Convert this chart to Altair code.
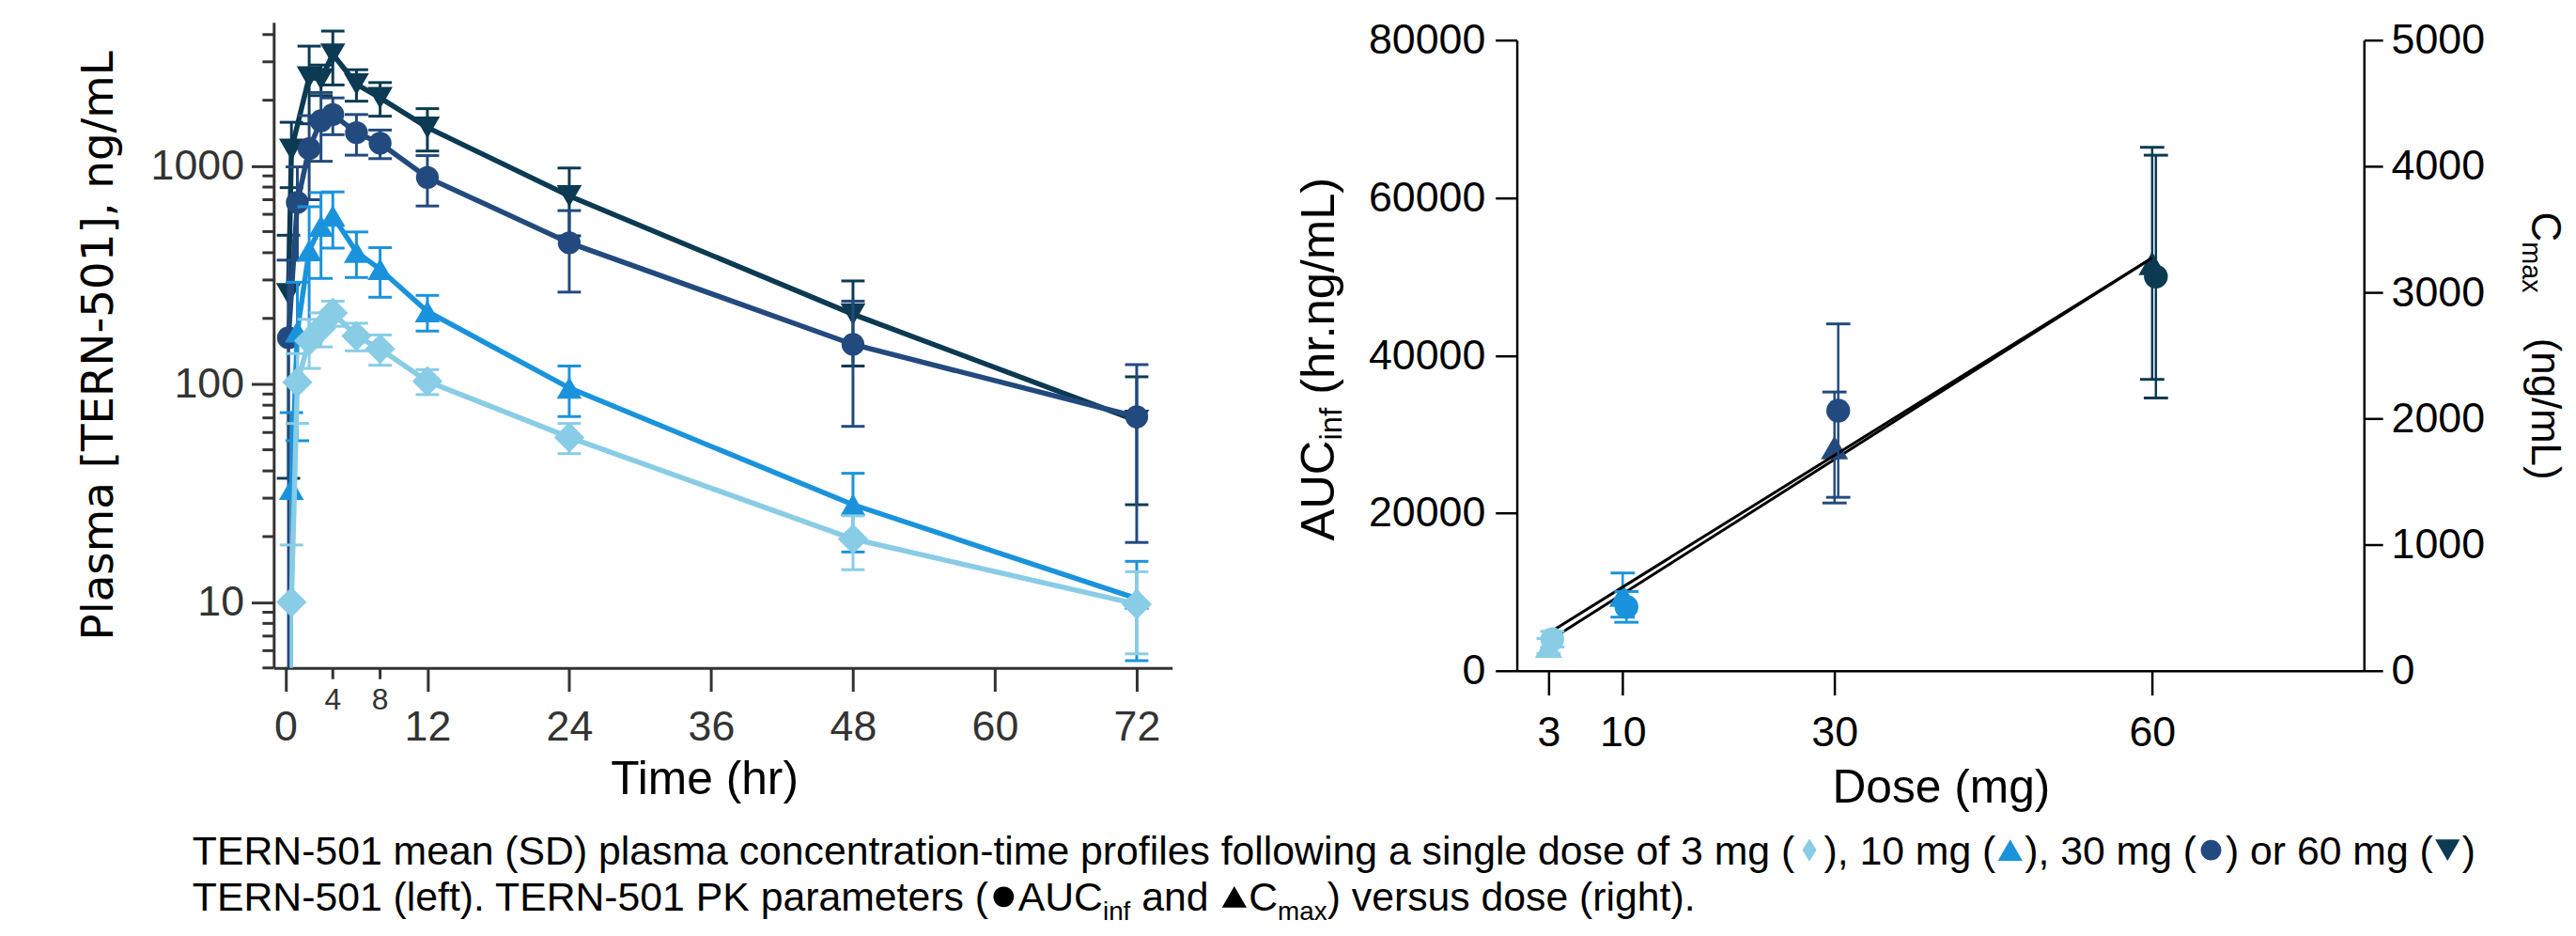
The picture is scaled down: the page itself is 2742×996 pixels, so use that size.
import altair as alt
import pandas as pd

# ---------------- data: left panel, mean (SD) plasma concentration ----------------
t_3mg = [0.5, 1, 2, 3, 4, 6, 8, 12, 24, 48, 72]
c_3mg = [10, 102, 158, 180, 212, 166, 145, 103, 57, 19.5, 9.8]
sd_3mg = [8.3, 36, 40, 32, 28, 24, 23, 13.5, 9, 5.4, 4]

t_10mg = [0.5, 1, 2, 3, 4, 6, 8, 12, 24, 48, 72]
c_10mg = [33, 174, 410, 530, 590, 403, 336, 215, 96, 28, 10.4]
sd_10mg = [41, 119, 240, 225, 170, 95, 86, 40, 25, 11, 5]

t_30mg = [0.25, 1, 2, 3, 4, 6, 8, 12, 24, 48, 72]
c_30mg = [163, 680, 1200, 1610, 1720, 1420, 1270, 885, 444, 152, 70.8]
sd_30mg = [207, 310, 500, 560, 330, 300, 190, 230, 180, 88, 52]

t_60mg = [0.25, 0.5, 2, 3, 4, 6, 8, 12, 24, 48, 72]
c_60mg = [259, 1190, 2550, 2500, 3250, 2370, 2050, 1500, 728, 209, 68]
sd_60mg = [222, 395, 990, 400, 900, 390, 360, 330, 250, 88, 40]

# ---------------- data: right panel, PK parameters vs dose ----------------
dose_mg = [3, 10, 30, 60]
auc_mean = [4000, 8100, 33000, 50000]
auc_sd = [1000, 1950, 11000, 15400]
cmax_mean = [195, 600, 1770, 3230]
cmax_sd = [60, 175, 440, 920]

# ---------------- tick labels ----------------
time_ticks = [0, 12, 24, 36, 48, 60, 72]
time_minor = [4, 8]
conc_ticks = [10, 100, 1000]
dose_ticks = [3, 10, 30, 60]
auc_ticks = [0, 20000, 40000, 60000, 80000]
cmax_ticks = [0, 1000, 2000, 3000, 4000, 5000]

# ---------------- style ----------------
C3, C10, C30, C60 = "#89CCE6", "#1A93DC", "#224A7E", "#0B3A52"
GRAY = "#333333"
FONT = "Liberation Sans, Arial, Helvetica, sans-serif"
TFONT = "DejaVu Sans, Verdana, sans-serif"

LW, LH = 962, 691      # left plot area
RW, RH = 907, 694      # right plot area
LX0, LY0 = 285, 22     # page position of left plot origin
RX0, RY0 = 1616, 22    # page position of right plot origin

AW = {' ': 278, '(': 333, ')': 333, ',': 278, '-': 333, '.': 278, '/': 278, '[': 278, ']': 278}
for d in "0123456789":
    AW[d] = 556
AW.update({'A': 667, 'C': 722, 'D': 722, 'E': 667, 'K': 667, 'L': 556, 'N': 722, 'P': 667,
           'R': 722, 'S': 667, 'T': 611, 'U': 722, 'a': 556, 'c': 500, 'd': 556, 'e': 556,
           'f': 278, 'g': 556, 'h': 556, 'i': 222, 'l': 222, 'm': 833, 'n': 556, 'o': 556,
           'p': 556, 'r': 333, 's': 500, 't': 278, 'u': 556, 'v': 500, 'w': 722, 'x': 500})


def tw(s, fs):
    return sum(AW.get(ch, 556) for ch in s) * fs / 1000.0


# ================= LEFT PANEL =================
x_left = alt.Scale(domain=[-1, 75], nice=False, zero=False)
y_left = alt.Scale(type="log", domain=[5, 4550], nice=False)

ax_time = alt.Axis(values=time_ticks, format="d", tickSize=25, tickWidth=3, tickColor=GRAY,
                   domainColor=GRAY, domainWidth=3, labelFont=FONT, labelFontSize=45,
                   labelColor=GRAY, labelPadding=16, labelFlush=False, labelOverlap=False,
                   grid=False, title="Time (hr)", titleFont=FONT, titleFontSize=50,
                   titleFontWeight="normal", titleColor="black", titleX=461, titleY=135,
                   titleBaseline="alphabetic")
ax_conc = alt.Axis(values=conc_ticks, format="d", tickSize=24, tickWidth=3, tickColor=GRAY,
                   domainColor=GRAY, domainWidth=3, labelFont=FONT, labelFontSize=45,
                   labelColor=GRAY, labelPadding=8, labelFlush=False, labelOverlap=False,
                   grid=False, title="Plasma [TERN-501], ng/mL", titleFont=TFONT,
                   titleFontSize=47, titleFontWeight="normal", titleColor="black",
                   titleX=-173, titleY=345.5, titleAngle=270, titleBaseline="alphabetic",
                   titleAlign="center")

XT = alt.X("t:Q", scale=x_left, axis=ax_time)


def YC(field):
    return alt.Y(field, scale=y_left, axis=ax_conc)


def series(times, conc, sd, color, shape, size):
    hi = [c + s for c, s in zip(conc, sd)]
    lo_raw = [c - s for c, s in zip(conc, sd)]
    lo = [v if v > 5 else 5 for v in lo_raw]
    df = pd.DataFrame({"t": times, "c": conc, "hi": hi, "lo": lo,
                       "cap": [v > 5 for v in lo_raw]})
    base = alt.Chart(df)
    line = base.mark_line(color=color, strokeWidth=5.5).encode(x=XT, y=YC("c:Q"))
    bars = base.mark_rule(color=color, strokeWidth=3).encode(x=XT, y=YC("lo:Q"), y2="hi:Q")
    cap_hi = base.mark_tick(color=color, orient="horizontal", size=25, thickness=3,
                            opacity=1).encode(x=XT, y=YC("hi:Q"))
    cap_lo = base.transform_filter("datum.cap").mark_tick(
        color=color, orient="horizontal", size=25, thickness=3, opacity=1).encode(x=XT, y=YC("lo:Q"))
    pts = base.mark_point(filled=True, opacity=1, shape=shape, size=size, color=color,
                          strokeWidth=0).encode(x=XT, y=YC("c:Q"))
    return [line, bars, cap_hi, cap_lo, pts]


NARROW_DIAMOND = "M0,-1L0.62,0L0,1L-0.62,0Z"

left_layers = []
left_layers += series(t_60mg, c_60mg, sd_60mg, C60, "triangle-down", 720)
left_layers += series(t_30mg, c_30mg, sd_30mg, C30, "circle", 600)
left_layers += series(t_10mg, c_10mg, sd_10mg, C10, "triangle-up", 720)
left_layers += series(t_3mg, c_3mg, sd_3mg, C3, "diamond", 1050)

# minor ticks on the log axis and the 4 / 8 hr ticks
minor_vals = [m * 10 ** e for e in range(0, 4) for m in range(2, 10)
              if 5 <= m * 10 ** e <= 4550 and m * 10 ** e not in conc_ticks]
minor_y = alt.Chart(pd.DataFrame({"v": minor_vals})).mark_rule(
    color=GRAY, strokeWidth=3).encode(y=YC("v:Q"), x=alt.value(-12), x2=alt.value(0))
minor_x_df = pd.DataFrame({"t": time_minor, "lab": [str(v) for v in time_minor]})
minor_x = alt.Chart(minor_x_df).mark_rule(color=GRAY, strokeWidth=3).encode(
    x=XT, y=alt.value(LH), y2=alt.value(LH + 12))
minor_x_lab = alt.Chart(minor_x_df).mark_text(
    font=FONT, fontSize=32, color=GRAY, baseline="top", align="center").encode(
    x=XT, y=alt.value(LH + 20), text="lab:N")
left_layers += [minor_y, minor_x, minor_x_lab]

# ---------------- caption (text + symbol keys) ----------------
DUMMY = pd.DataFrame({"k": [0]})
CF, SF = 43, 28
SLOT = 31


def text_piece(s, xpage, ypage, fs):
    return alt.Chart(DUMMY).mark_text(
        text=s, font=FONT, fontSize=fs, color="black", align="left",
        baseline="alphabetic").encode(x=alt.value(xpage - LX0), y=alt.value(ypage - LY0))


def sym_piece(shape, color, xpage, ypage, size):
    return alt.Chart(DUMMY).mark_point(
        shape=shape, filled=True, opacity=1, color=color, size=size,
        strokeWidth=0).encode(x=alt.value(xpage - LX0), y=alt.value(ypage - LY0))


SYM = {"diamond": (NARROW_DIAMOND, 600), "up": ("triangle-up", 700),
       "circle": ("circle", 480), "down": ("triangle-down", 700)}


def caption_line(pieces, x0, base_y):
    out = []
    x = x0
    for kind, a, b in pieces:
        if kind in ("t", "sub"):
            fs = CF if kind == "t" else SF
            dy = 0 if kind == "t" else 10
            stripped = a.lstrip(" ")
            x += tw(a[:len(a) - len(stripped)], fs)   # leading spaces are collapsed in SVG
            out.append(text_piece(stripped, x, base_y + dy, fs))
            x += tw(stripped, fs)
        else:
            shp, sz = SYM[a]
            out.append(sym_piece(shp, b, x + SLOT / 2, base_y - 15, sz))
            x += SLOT
    return out


line1 = [("t", "TERN-501 mean (SD) plasma concentration-time profiles following a single dose of 3 mg (", None),
         ("s", "diamond", C3), ("t", "), 10 mg (", None), ("s", "up", C10),
         ("t", "), 30 mg (", None), ("s", "circle", C30), ("t", ") or 60 mg (", None),
         ("s", "down", C60), ("t", ")", None)]
line2 = [("t", "TERN-501 (left). TERN-501 PK parameters (", None), ("s", "circle", "black"),
         ("t", "AUC", None), ("sub", "inf", None), ("t", " and ", None), ("s", "up", "black"),
         ("t", "C", None), ("sub", "max", None), ("t", ") versus dose (right).", None)]

left_layers += caption_line(line1, 198, 923)
left_layers += caption_line(line2, 198, 973)

left = alt.layer(*left_layers).properties(width=LW, height=LH)

# ================= RIGHT PANEL =================
rdf = pd.DataFrame({
    "dose": dose_mg,
    "auc": auc_mean,
    "auc_hi": [m + s for m, s in zip(auc_mean, auc_sd)],
    "auc_lo": [m - s for m, s in zip(auc_mean, auc_sd)],
    "cmax": cmax_mean,
    "cmax_hi": [m + s for m, s in zip(cmax_mean, cmax_sd)],
    "cmax_lo": [m - s for m, s in zip(cmax_mean, cmax_sd)],
    "col": [C3, C10, C30, C60],
})

x_dose = alt.Scale(domain=[0, 80], nice=False, zero=False)
y_auc = alt.Scale(domain=[0, 80000], nice=False, range=[RH, 19])
y_cmax = alt.Scale(domain=[0, 5000], nice=False, range=[RH, 19])

ax_dose = alt.Axis(values=dose_ticks, format="d", tickSize=26, tickWidth=2.5, tickColor="black",
                   domainColor="black", domainWidth=2.5, labelFont=FONT, labelFontSize=45,
                   labelColor="black", labelPadding=18, labelFlush=False, labelOverlap=False,
                   grid=False, title="Dose (mg)", titleFont=FONT, titleFontSize=50,
                   titleFontWeight="normal", titleColor="black", titleX=454, titleY=141,
                   titleBaseline="alphabetic")
ax_auc = alt.Axis(orient="left", values=auc_ticks, format="d", tickSize=23, tickWidth=2.5,
                  tickColor="black", domainColor="black", domainWidth=2.5, labelFont=FONT,
                  labelFontSize=45, labelColor="black", labelPadding=11, labelFlush=False,
                  labelOverlap=False, grid=False, title=None)
ax_cmax = alt.Axis(orient="right", values=cmax_ticks, format="d", tickSize=20, tickWidth=2.5,
                   tickColor="black", domainColor="black", domainWidth=2.5, labelFont=FONT,
                   labelFontSize=45, labelColor="black", labelPadding=9, labelFlush=False,
                   labelOverlap=False, grid=False, title=None)

XD = alt.X("dose:Q", scale=x_dose, axis=ax_dose)
COL = alt.Color("col:N", scale=None, legend=None)
rb = alt.Chart(rdf)


def YA(f):
    return alt.Y(f, scale=y_auc, axis=ax_auc)


def YM(f):
    return alt.Y(f, scale=y_cmax, axis=ax_cmax)


def rtext(s, xpage, ypage, fs, angle):
    return alt.Chart(DUMMY).mark_text(
        text=s, font=FONT, fontSize=fs, color="black", align="left", baseline="alphabetic",
        angle=angle).encode(x=alt.value(xpage - RX0), y=alt.value(ypage - RY0))


# AUC title (reads bottom to top)
AF, ASF = 51, 33
y_a = 577
auc_title = [rtext("AUC", 1420, y_a, AF, 270)]
y_a -= tw("AUC", AF)
auc_title.append(rtext("inf", 1428, y_a, ASF, 270))
y_a -= tw("inf", ASF) + tw(" ", AF)
auc_title.append(rtext("(hr.ng/mL)", 1420, y_a, AF, 270))

# Cmax title (reads top to bottom)
MF, MSF = 44, 29
y_m = 225
cmax_title = [rtext("C", 2703, y_m, MF, 90)]
y_m += tw("C", MF)
cmax_title.append(rtext("max", 2693, y_m, MSF, 90))
cmax_title.append(rtext("(ng/mL)", 2703, 360, MF, 90))

layer_cmax = alt.layer(
    rb.transform_regression("dose", "cmax").mark_line(color="black", strokeWidth=3).encode(
        x=XD, y=YM("cmax:Q")),
    rb.mark_rule(strokeWidth=2.5).encode(x=XD, y=YM("cmax_lo:Q"), y2="cmax_hi:Q", color=COL),
    rb.mark_tick(orient="horizontal", size=26, thickness=3, opacity=1).encode(
        x=XD, y=YM("cmax_hi:Q"), color=COL),
    rb.mark_tick(orient="horizontal", size=26, thickness=3, opacity=1).encode(
        x=XD, y=YM("cmax_lo:Q"), color=COL),
    rb.mark_point(filled=True, shape="triangle-up", size=850, opacity=1, strokeWidth=0).encode(
        x=XD, y=YM("cmax:Q"), color=COL),
    *cmax_title,
)

layer_auc = alt.layer(
    rb.transform_regression("dose", "auc").mark_line(color="black", strokeWidth=3).encode(
        x=XD, y=YA("auc:Q")),
    rb.mark_rule(strokeWidth=2.5, xOffset=4).encode(x=XD, y=YA("auc_lo:Q"), y2="auc_hi:Q", color=COL),
    rb.mark_tick(orient="horizontal", size=26, thickness=3, opacity=1, xOffset=4).encode(
        x=XD, y=YA("auc_hi:Q"), color=COL),
    rb.mark_tick(orient="horizontal", size=26, thickness=3, opacity=1, xOffset=4).encode(
        x=XD, y=YA("auc_lo:Q"), color=COL),
    rb.mark_point(filled=True, shape="circle", size=650, opacity=1, strokeWidth=0, xOffset=4).encode(
        x=XD, y=YA("auc:Q"), color=COL),
    *auc_title,
)

right = alt.layer(layer_cmax, layer_auc).resolve_scale(y="independent").properties(
    width=RW, height=RH)

chart = alt.hconcat(left, right, spacing=369, bounds="flush").properties(
    padding={"left": 74, "top": 10, "right": 4, "bottom": 0}
).configure(font=FONT).configure_view(stroke=None)

chart.save("out.html", embed_options={"renderer": "svg", "actions": False})
